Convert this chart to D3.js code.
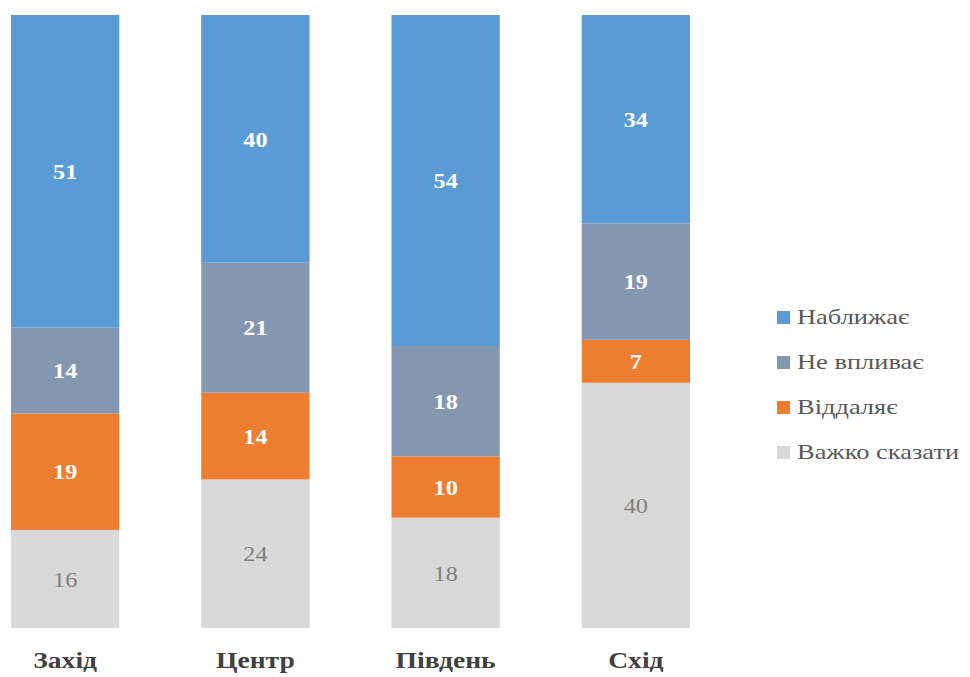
<!DOCTYPE html>
<html><head><meta charset="utf-8">
<script src="https://cdn.jsdelivr.net/npm/d3@7"></script>
</head><body style="margin:0;background:#fff">
<svg id="c" width="970" height="677" style="display:block"></svg>
<script>
const categories = ["Захід", "Центр", "Південь", "Схід"];
const seriesNames = ["Наближає", "Не впливає", "Віддаляє", "Важко сказати"];
const nablyzhaie = [51, 40, 54, 34];
const nevplyvaie = [14, 21, 18, 19];
const viddaliaie = [19, 14, 10, 7];
const vazhko = [16, 24, 18, 40];
const colors = ["#5B9BD5", "#8497B0", "#ED7D31", "#D9D9D9"];
const FONT = "Liberation Serif";

const seriesVals = [nablyzhaie, nevplyvaie, viddaliaie, vazhko];
const rows = categories.map((c, i) => {
  const r = {cat: c};
  seriesNames.forEach((s, j) => r[s] = seriesVals[j][i]);
  return r;
});
const stackKeys = seriesNames.slice().reverse();
const stacked = d3.stack().keys(stackKeys).offset(d3.stackOffsetExpand)(rows);

const svg = d3.select("#c");
const x2 = d3.scaleBand().domain(categories).range([11, 690]).paddingInner(82/190.3).paddingOuter(0);
const y = d3.scaleLinear().domain([0, 1]).range([628, 15]);
const color = d3.scaleOrdinal().domain(seriesNames).range(colors);

const g = svg.append("g");
stacked.forEach(layer => {
  const key = layer.key;
  g.selectAll(null).data(layer).enter().append("rect")
    .attr("x", d => x2(d.data.cat))
    .attr("width", x2.bandwidth())
    .attr("y", d => y(d[1]))
    .attr("height", d => y(d[0]) - y(d[1]))
    .attr("fill", color(key));
  g.selectAll(null).data(layer).enter().append("g")
    .attr("transform", d => `translate(${x2(d.data.cat) + x2.bandwidth() / 2},${(y(d[0]) + y(d[1])) / 2}) scale(1.1,1)`)
    .append("text")
    .attr("dy", "0.35em")
    .attr("text-anchor", "middle")
    .style("font-family", FONT)
    .attr("font-size", 22)
    .attr("font-weight", key === "Важко сказати" ? "normal" : "bold")
    .attr("fill", key === "Важко сказати" ? "#7F7F7F" : "#FFFFFF")
    .text(d => d.data[key]);
});

const xAxis = d3.axisBottom(x2).tickSize(0).tickPadding(0);
const ax = svg.append("g").attr("transform", "translate(0,668)").call(xAxis);
ax.attr("font-family", FONT).attr("font-size", 23);
ax.select(".domain").remove();
ax.selectAll("text")
  .style("font-family", FONT)
  .attr("font-size", 23)
  .attr("font-weight", "bold")
  .attr("fill", "#404040")
  .attr("y", 0)
  .attr("dy", 0)
  .attr("transform", "scale(1.2,1)");

const legend = svg.append("g").attr("transform", "translate(777,324)");
seriesNames.forEach((s, i) => {
  const row = legend.append("g").attr("transform", `translate(0,${i * 45})`);
  row.append("rect").attr("x", 0).attr("y", -13).attr("width", 13).attr("height", 13).attr("fill", colors[i]);
  row.append("text").attr("x", 20 / 1.26).attr("y", 0)
    .attr("transform", "scale(1.26,1)")
    .style("font-family", FONT)
    .attr("font-size", 21)
    .attr("fill", "#595959")
    .text(s);
});
</script>
</body></html>
